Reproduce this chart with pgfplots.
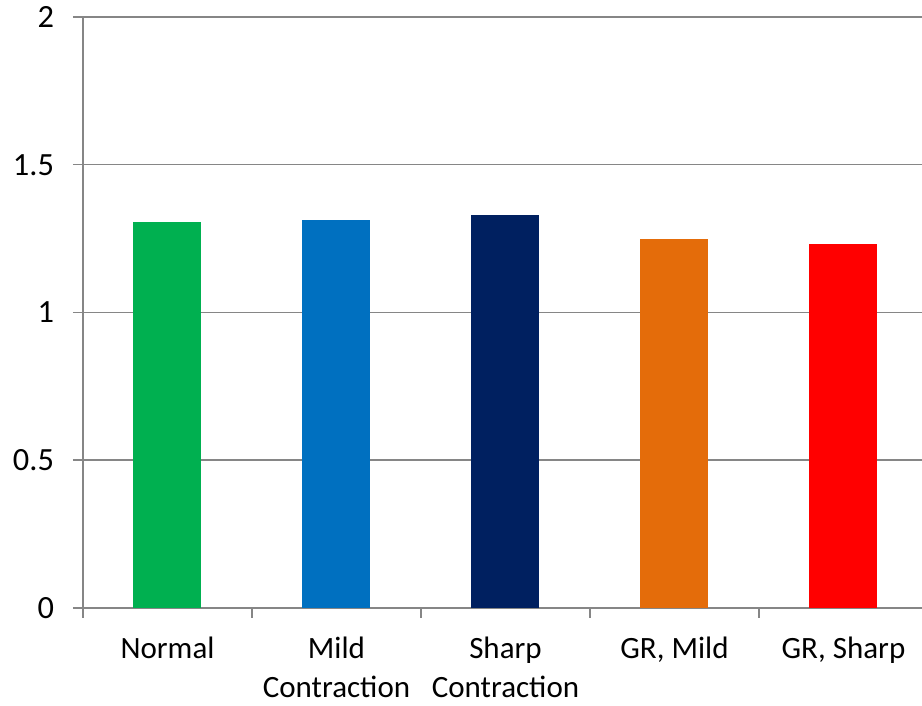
\documentclass[border=0pt]{standalone}
\usepackage{fontspec}
\setmainfont{Carlito}
\usepackage{pgfplots}
\pgfplotsset{compat=1.18}

\definecolor{gridgray}{HTML}{868686}
\definecolor{cNormal}{HTML}{00B050}
\definecolor{cMild}{HTML}{0070C0}
\definecolor{cSharp}{HTML}{002060}
\definecolor{cGRMild}{HTML}{E46C0A}
\definecolor{cGRSharp}{HTML}{FF0000}

\begin{document}
\begin{tikzpicture}
\begin{axis}[
  at={(0,0)}, anchor=south west,
  scale only axis,
  width=422.5pt, height=295.5pt,
  xmin=-0.5, xmax=4.5,
  ymin=0, ymax=2,
  ytick={0,0.5,1,1.5,2},
  yticklabels={0,0.5,1,1.5,2},
  xtick={0,1,2,3,4},
  xticklabels={Normal,{Mild\\Contraction},{Sharp\\Contraction},{GR, Mild},{GR, Sharp}},
  minor xtick={-0.5,0.5,1.5,2.5,3.5,4.5},
  axis x line*=bottom,
  axis y line*=left,
  axis line style={gridgray, line width=0.75pt, -},
  ymajorgrids,
  major grid style={gridgray, line width=0.75pt},
  tick align=outside,
  major tick length=5pt,
  minor tick length=5pt,
  major x tick style={draw=none},
  minor x tick style={draw=gridgray, line width=0.75pt},
  ytick style={draw=gridgray, line width=0.75pt},
  tick label style={font=\fontsize{15.5}{19.5}\selectfont, text=black},
  xticklabel style={align=center, yshift=-6pt},
  yticklabel style={font=\fontsize{16.2}{19.5}\selectfont, xshift=-6pt},
  /pgf/number format/assume math mode=true,
  clip=false,
]
\addplot[ybar, bar shift=0pt, bar width=34pt, fill=cNormal, draw=none] coordinates {(0,1.306)};
\addplot[ybar, bar shift=0pt, bar width=34pt, fill=cMild, draw=none] coordinates {(1,1.313)};
\addplot[ybar, bar shift=0pt, bar width=34pt, fill=cSharp, draw=none] coordinates {(2,1.330)};
\addplot[ybar, bar shift=0pt, bar width=34pt, fill=cGRMild, draw=none] coordinates {(3,1.249)};
\addplot[ybar, bar shift=0pt, bar width=34pt, fill=cGRSharp, draw=none] coordinates {(4,1.232)};
\end{axis}
\pgfresetboundingbox
\path (-41.5pt,-49pt) rectangle (419.5pt,304pt);
\end{tikzpicture}
\end{document}
